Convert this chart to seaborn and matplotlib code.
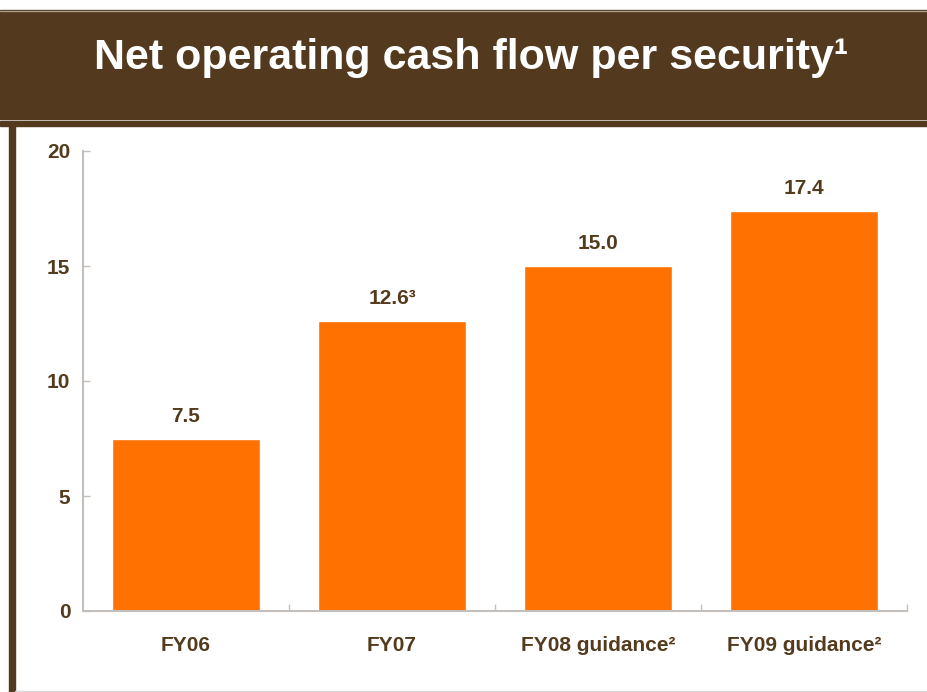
import matplotlib
matplotlib.use("Agg")
import matplotlib.pyplot as plt
import seaborn as sns
import pandas as pd
from matplotlib.patches import Rectangle
from matplotlib.lines import Line2D
from matplotlib.ticker import FixedLocator

# --- dati ---
categories = ["FY06", "FY07", "FY08 guidance²", "FY09 guidance²"]
values = [7.5, 12.6, 15.0, 17.4]
value_labels = ["7.5", "12.6³", "15.0", "17.4"]
y_ticks = [0, 5, 10, 15, 20]

BROWN = "#533A1F"
TEXT = "#553B1D"
ORANGE = "#FF7100"
AXIS = "#C4BFBA"

sns.set_theme(style="white")
plt.rcParams["font.family"] = ["Liberation Sans", "DejaVu Sans"]

df = pd.DataFrame({"cat": categories, "val": values})

fig = plt.figure(figsize=(9.27, 6.92), dpi=100)
W, H = 927, 692

# fascia del titolo e bordi
fig.patches.append(Rectangle((0, 1 - 119 / H), 1, 109 / H, transform=fig.transFigure,
                             color=BROWN, zorder=0))
fig.patches.append(Rectangle((0, 1 - 126 / H), 1, 5 / H, transform=fig.transFigure,
                             color=BROWN, zorder=0))
fig.patches.append(Rectangle((9 / W, 0), 6 / W, 1 - 126 / H, transform=fig.transFigure,
                             color=BROWN, zorder=0))
fig.lines.append(Line2D([0, 1], [1 - 10.5 / H, 1 - 10.5 / H], transform=fig.transFigure,
                        color="#A89A8A", lw=1))
fig.lines.append(Line2D([15 / W, 1], [1.5 / H, 1.5 / H], transform=fig.transFigure,
                        color="#D8D8D8", lw=1))

fig.text(471 / W, 1 - 69 / H, "Net operating cash flow per security¹", color="white",
         fontsize=31, fontweight="bold", ha="center", va="baseline")

ax = fig.add_axes([83 / W, 1 - 611 / H, 824 / W, 460 / H])
sns.barplot(data=df, x="cat", y="val", color=ORANGE, saturation=1, width=0.72, ax=ax)

ax.set_xlim(-0.5, 3.5)
ax.set_ylim(0, 20)
ax.set_yticks(y_ticks)
ax.set_xlabel("")
ax.set_ylabel("")

for i, (v, lab) in enumerate(zip(values, value_labels)):
    ax.annotate(lab, (i, v), xytext=(0, 13), textcoords="offset pixels",
                ha="center", va="bottom", fontsize=15, fontweight="bold", color=TEXT)

for s in ["top", "right"]:
    ax.spines[s].set_visible(False)
for s in ["left", "bottom"]:
    ax.spines[s].set_color(AXIS)
    ax.spines[s].set_linewidth(1.5)

ax.xaxis.set_minor_locator(FixedLocator([0.5, 1.5, 2.5, 3.5]))
ax.tick_params(axis="x", which="major", length=0, pad=18, labelsize=15, labelcolor=TEXT)
ax.tick_params(axis="x", which="minor", direction="in", length=5, width=1, color=AXIS, bottom=True)
ax.tick_params(axis="y", direction="in", length=5, width=1, color=AXIS, left=True,
               pad=9, labelsize=15, labelcolor=TEXT)
for lab in ax.get_xticklabels() + ax.get_yticklabels():
    lab.set_fontweight("bold")

fig.savefig("out.png", dpi=100)
